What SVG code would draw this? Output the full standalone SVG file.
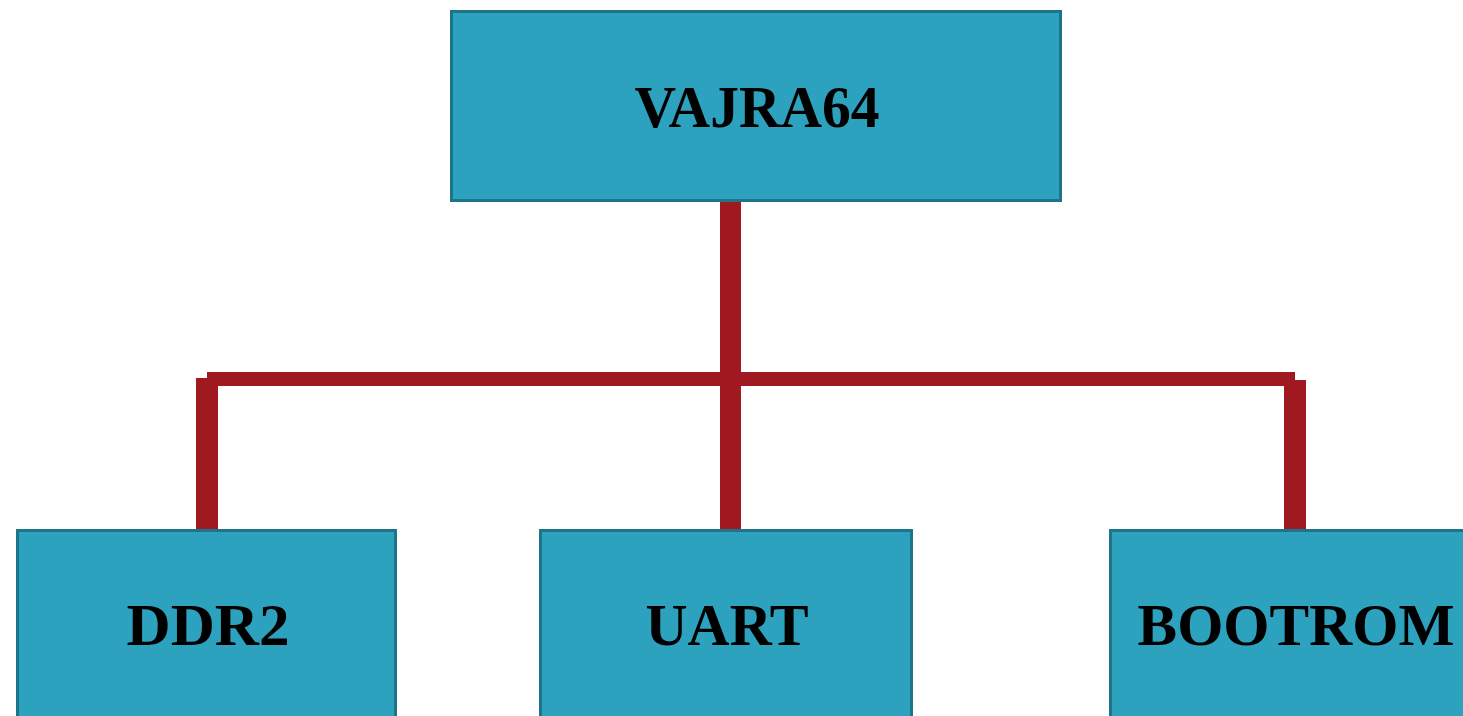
<svg xmlns="http://www.w3.org/2000/svg" width="1463" height="716" viewBox="0 0 1463 716">
<style>
.box{fill:#2ca2bf;stroke:#1e7589;stroke-width:3}
.lbl{font-family:"Liberation Serif","DejaVu Serif",serif;font-weight:bold;font-size:60px;fill:#000;text-anchor:middle}
.wire{fill:#a11920}
</style>
<rect width="1463" height="716" fill="#ffffff"/>
<g id="connectors">
<rect class="wire" x="720" y="201" width="21" height="330"/>
<rect class="wire" x="207" y="372" width="1088" height="14"/>
<rect class="wire" x="196" y="378" width="22" height="153"/>
<rect class="wire" x="1284" y="380" width="22" height="151"/>
</g>
<g id="node-vajra64">
<rect class="box" x="451.5" y="11.5" width="609" height="189"/>
<text class="lbl" x="757" y="127" textLength="245" lengthAdjust="spacingAndGlyphs">VAJRA64</text>
</g>
<g id="node-ddr2">
<rect class="box" x="17.5" y="530.5" width="378" height="200"/>
<text class="lbl" x="208" y="645" textLength="163" lengthAdjust="spacingAndGlyphs">DDR2</text>
</g>
<g id="node-uart">
<rect class="box" x="540.5" y="530.5" width="371" height="200"/>
<text class="lbl" x="727" y="645" textLength="163" lengthAdjust="spacingAndGlyphs">UART</text>
</g>
<g id="node-bootrom">
<rect class="box" x="1110.5" y="530.5" width="370" height="200"/>
<text class="lbl" x="1296" y="645" textLength="317" lengthAdjust="spacingAndGlyphs">BOOTROM</text>
</g>
</svg>
